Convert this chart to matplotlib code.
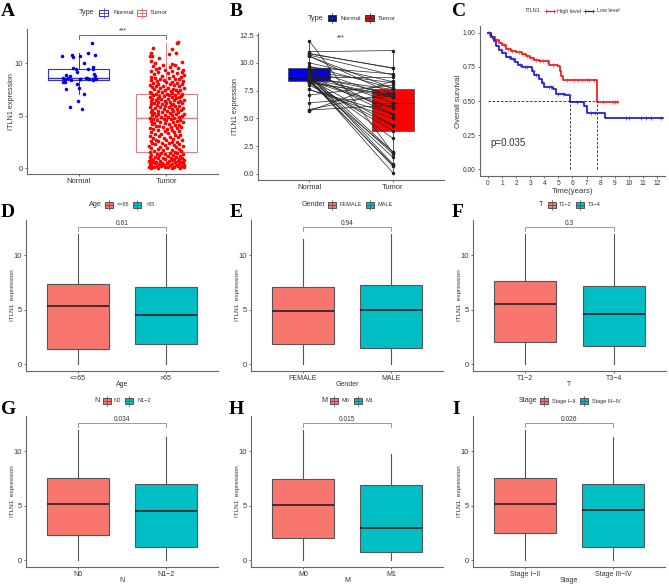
import numpy as np
import matplotlib
matplotlib.use("Agg")
import matplotlib.pyplot as plt
from matplotlib.patches import Rectangle
from matplotlib.lines import Line2D

plt.rcParams["font.family"] = ["Liberation Sans", "DejaVu Sans"]

W, H = 669, 587
RED_BOX = "#F8766D"
TEAL_BOX = "#00BFC4"
TEXT = "#333333"
AXIS = "#666666"

# Panel A
normal_jit = [0.15, 0.11, 0.19, -0.19, -0.08, -0.06, 0.01, 0.06, 0.16, 0.16,
              0.11, -0.07, -0.03, -0.02, 0.18, 0.19, -0.15, -0.10, -0.12, -0.18,
              -0.16, 0.02, -0.09, -0.18, -0.16, 0.08, 0.09, 0.12, 0.16, 0.18,
              0.20, -0.02, -0.14, 0.00, 0.06, -0.01, -0.10, 0.04, 0.02, 0.16]
normal_val = [11.97, 11.05, 10.86, 10.76, 10.86, 10.6, 10.7, 10.0, 9.71, 9.43,
              9.43, 9.59, 9.46, 9.17, 8.98, 8.85, 8.92, 8.79, 8.66, 8.66,
              8.54, 8.5, 8.38, 8.25, 8.25, 8.66, 8.6, 8.54, 8.54, 8.47,
              8.54, 8.03, 7.58, 7.64, 7.1, 6.4, 5.8, 5.67, 8.54, 8.4]
tumor_val = [
    0.02, 0.03, 0.05, 0.05, 0.06, 0.08, 0.1, 0.1, 0.12, 0.14, 0.15, 0.18,
    0.2, 0.22, 0.25, 0.26, 0.3, 0.3, 0.33, 0.36, 0.38, 0.4, 0.42, 0.45,
    0.48, 0.5, 0.52, 0.55, 0.58, 0.6, 0.62, 0.65, 0.68, 0.7, 0.72, 0.75,
    0.78, 0.8, 0.83, 0.85, 0.88, 0.9, 0.92, 0.95, 0.98, 1.0, 1.02, 1.08,
    1.1, 1.14, 1.18, 1.2, 1.25, 1.27, 1.3, 1.33, 1.36, 1.4, 1.42, 1.46,
    1.5, 1.55, 1.6, 1.62, 1.7, 1.75, 1.8, 1.84, 1.9, 1.95, 2.0, 2.05,
    2.1, 2.15, 2.18, 2.22, 2.28, 2.3, 2.35, 2.38, 2.42, 2.45, 2.5, 2.55,
    2.6, 2.65, 2.7, 2.72, 2.78, 2.85, 2.9, 2.95, 3.0, 3.05, 3.08, 3.15,
    3.2, 3.25, 3.3, 3.35, 3.4, 3.45, 3.5, 3.55, 3.6, 3.65, 3.7, 3.75,
    3.8, 3.82, 3.88, 3.9, 3.95, 4.0, 4.05, 4.1, 4.15, 4.2, 4.25, 4.3,
    4.32, 4.36, 4.4, 4.45, 4.5, 4.52, 4.56, 4.6, 4.62, 4.66, 4.7, 4.72,
    4.75, 4.8, 4.84, 4.88, 4.92, 4.95, 5.0, 5.03, 5.06, 5.1, 5.14, 5.18,
    5.2, 5.25, 5.28, 5.32, 5.36, 5.4, 5.44, 5.48, 5.5, 5.55, 5.58, 5.62,
    5.65, 5.68, 5.72, 5.75, 5.8, 5.82, 5.86, 5.9, 5.92, 5.95, 6.0, 6.05,
    6.08, 6.1, 6.15, 6.18, 6.22, 6.25, 6.28, 6.3, 6.35, 6.38, 6.42, 6.45,
    6.5, 6.52, 6.55, 6.6, 6.62, 6.65, 6.7, 6.72, 6.75, 6.8, 6.82, 6.85,
    6.9, 6.92, 6.95, 7.0, 7.02, 7.05, 7.1, 7.12, 7.15, 7.2, 7.24, 7.28,
    7.3, 7.35, 7.4, 7.42, 7.48, 7.5, 7.55, 7.6, 7.62, 7.68, 7.7, 7.75,
    7.8, 7.84, 7.88, 7.9, 7.95, 8.0, 8.02, 8.08, 8.1, 8.15, 8.2, 8.25,
    8.3, 8.35, 8.38, 8.42, 8.48, 8.5, 8.55, 8.6, 8.65, 8.7, 8.75, 8.8,
    8.85, 8.9, 8.98, 9.05, 9.1, 9.15, 9.2, 9.28, 9.3, 9.38, 9.42, 9.5,
    9.55, 9.6, 9.7, 9.8, 9.85, 9.9, 9.95, 10.0, 10.13, 10.2, 10.57, 10.7,
    10.7, 10.89, 11.02, 11.05, 11.34, 11.53, 11.97, 12.04]
tumor_jit = [
    -0.18, 0.06, -0.09, 0.16, -0.02, 0.2, -0.14, 0.09, -0.2, 0.02, 0.13, -0.06,
    0.18, -0.11, 0.04, -0.17, 0.11, -0.03, 0.2, -0.08, 0.07, -0.19, 0.15, -0.13,
    0.01, 0.19, -0.05, -0.16, 0.1, 0.17, -0.12, 0.03, -0.2, 0.13, -0.07, 0.06,
    -0.15, 0.2, -0.01, 0.09, -0.18, 0.15, -0.1, 0.05, -0.04, 0.18, -0.19, 0.11,
    -0.13, 0.02, 0.16, -0.08, 0.08, -0.17, 0.19, -0.02, -0.11, 0.12, -0.06, 0.04,
    -0.19, 0.1, -0.14, 0.17, -0.04, 0.07, -0.1, 0.14, -0.17, 0.01, 0.11, -0.07,
    0.19, -0.2, -0.02, 0.09, -0.13, 0.15, -0.05, 0.03, -0.16, 0.06, 0.12, -0.09,
    -0.18, 0.0, 0.18, -0.12, 0.08, -0.03, -0.15, 0.13, 0.04, -0.08, -0.19, 0.1,
    0.16, -0.06, -0.13, 0.02, 0.09, -0.17, -0.01, 0.14, -0.1, 0.06, -0.15, 0.01,
    0.12, -0.19, -0.04, 0.17, 0.05, -0.12, -0.08, 0.1, 0.15, -0.16, 0.03, -0.02,
    -0.14, 0.08, 0.19, -0.07, -0.18, 0.12, 0.0, -0.11, 0.16, 0.05, -0.15, -0.03,
    0.09, -0.19, 0.14, -0.06, 0.02, 0.18, -0.12, 0.07, -0.16, -0.01, 0.11, -0.09,
    0.2, -0.14, 0.04, -0.05, 0.13, -0.18, 0.08, 0.01, -0.1, 0.17, -0.16, 0.06,
    -0.03, 0.12, -0.13, 0.19, -0.07, 0.03, -0.19, 0.1, -0.01, 0.15, -0.11, 0.05,
    -0.17, 0.08, -0.05, 0.18, 0.0, -0.14, 0.13, -0.09, 0.04, -0.18, 0.16, -0.02,
    0.09, -0.12, 0.2, -0.06, 0.02, -0.16, 0.11, -0.1, 0.06, -0.19, 0.14, -0.03,
    0.17, -0.08, 0.03, -0.15, 0.1, -0.12, 0.01, 0.18, -0.17, 0.07, -0.05, 0.13,
    -0.19, 0.05, -0.1, 0.16, -0.02, 0.11, -0.14, 0.08, -0.07, 0.2, 0.02, -0.16,
    0.14, -0.04, -0.12, 0.09, -0.19, 0.04, 0.18, -0.09, 0.12, -0.15, 0.0, 0.06,
    -0.11, 0.19, -0.03, -0.17, 0.1, 0.15, -0.07, 0.03, -0.13, 0.17, -0.18, 0.08,
    -0.05, 0.2, -0.14, 0.12, 0.02, -0.1, 0.18, -0.17, 0.07, 0.19, -0.02, -0.12,
    0.13, -0.08, 0.04, -0.15, 0.1, -0.04, 0.06, -0.13, 0.18, -0.18, -0.08, -0.19,
    -0.16, 0.03, -0.18, 0.11, 0.06, -0.15, 0.12, 0.13]

a_box_normal = {"q1": 8.4, "med": 8.65, "q3": 9.5, "whislo": 7.1, "whishi": 11.0, "fliers": []}
a_box_tumor = {"q1": 1.5, "med": 4.75, "q3": 7.1, "whislo": 0.0, "whishi": 12.0, "fliers": []}

# Panel B, paired samples
pair_normal = [12.0, 11.0, 10.85, 10.8, 10.7, 10.6, 10.6, 10.0, 9.7, 9.6, 9.45, 9.45,
               9.2, 9.0, 8.95, 8.9, 8.85, 8.8, 8.7, 8.65, 8.65, 8.6, 8.6, 8.55, 8.55,
               8.55, 8.5, 8.45, 8.4, 8.4, 8.3, 8.25, 8.25, 8.2, 8.0, 7.6, 7.6, 7.1,
               6.4, 5.8, 5.75, 5.67]
pair_tumor = [1.9, 11.1, 9.5, 9.55, 8.9, 7.7, 7.2, 8.3, 7.7, 9.0, 6.9, 5.4,
              8.2, 6.4, 2.0, 0.9, 5.3, 7.2, 1.8, 7.6, 8.7, 3.2, 0.1, 6.0, 7.0,
              4.4, 0.7, 1.5, 5.9, 0.8, 6.9, 3.9, 2.0, 7.1, 4.3, 5.0, 5.4, 8.0,
              7.0, 7.3, 6.2, 8.4]
b_box_normal = {"q1": 8.4, "med": 8.65, "q3": 9.5, "whislo": 5.7, "whishi": 12.0, "fliers": []}
b_box_tumor = {"q1": 3.9, "med": 6.35, "q3": 7.65, "whislo": 0.1, "whishi": 11.1, "fliers": []}

# Panel C, survival curves
high_t = [0, 0.2, 0.5, 0.8, 1.0, 1.3, 1.6, 2.0, 2.4, 2.7, 3.0, 3.3, 3.6, 4.0, 4.3,
          5.0, 5.1, 5.2, 5.3, 7.75, 9.2]
high_s = [1.0, 0.97, 0.945, 0.925, 0.91, 0.885, 0.87, 0.86, 0.845, 0.83, 0.815, 0.8,
          0.795, 0.79, 0.765, 0.76, 0.72, 0.68, 0.652, 0.49, 0.49]
low_t = [0, 0.2, 0.4, 0.6, 0.8, 1.0, 1.3, 1.6, 1.9, 2.1, 2.4, 3.0, 3.1, 3.3, 3.6,
         3.8, 4.0, 4.6, 4.8, 5.5, 5.8, 5.85, 6.8, 7.0, 8.3, 12.4]
low_s = [1.0, 0.97, 0.94, 0.9, 0.875, 0.85, 0.825, 0.81, 0.785, 0.765, 0.75, 0.75,
         0.72, 0.69, 0.665, 0.63, 0.605, 0.59, 0.555, 0.545, 0.515, 0.49, 0.465, 0.415,
         0.375, 0.375]
high_cens = [0.1, 0.3, 0.6, 0.9, 1.1, 1.4, 1.7, 1.9, 2.2, 2.5, 2.8, 3.1, 3.4, 3.7, 3.9,
             4.2, 4.6, 4.9, 5.6, 6.1, 6.4, 6.7, 7.0, 7.2, 7.5, 8.2, 8.9, 9.0, 9.15]
low_cens = [0.1, 0.3, 0.5, 0.9, 1.2, 1.5, 1.8, 2.3, 2.6, 2.8, 3.2, 3.4, 3.9, 4.3, 4.5,
            5.0, 5.3, 5.75, 6.3, 7.3, 7.6, 9.8, 10.0, 10.9, 11.2, 11.6, 12.3]
p_text = "p=0.035"

# Panels D to I
group_names = ["Age", "Gender", "T", "N", "M", "Stage"]
group_labels = [["<=65", ">65"], ["FEMALE", "MALE"], ["T1\u22122", "T3\u22124"],
                ["N0", "N1\u22122"], ["M0", "M1"], ["Stage I\u2212II", "Stage III\u2212IV"]]
group_pvalues = ["0.61", "0.94", "0.3", "0.034", "0.015", "0.026"]
box_q1 = [[1.35, 1.8], [1.8, 1.5], [2.05, 1.7], [2.3, 1.2], [2.0, 0.75], [2.5, 1.2]]
box_med = [[5.3, 4.55], [4.9, 5.0], [5.5, 4.6], [5.15, 4.55], [5.05, 2.95], [5.15, 4.6]]
box_q3 = [[7.4, 7.05], [7.05, 7.3], [7.6, 7.15], [7.55, 7.0], [7.45, 6.9], [7.55, 7.0]]
box_hi = [[12.0, 12.0], [11.5, 12.0], [12.0, 12.0], [12.0, 11.3], [12.0, 9.8], [12.0, 11.3]]

fig = plt.figure(figsize=(W / 100, H / 100), dpi=100)


def add_axes_px(left, right, top, bottom):
    ax = fig.add_axes([left / W, 1 - bottom / H, (right - left) / W, (bottom - top) / H])
    ax.spines["top"].set_visible(False)
    ax.spines["right"].set_visible(False)
    for side in ("left", "bottom"):
        ax.spines[side].set_color(AXIS)
        ax.spines[side].set_linewidth(0.8)
    ax.tick_params(colors=TEXT, labelsize=5.4, length=1.6, width=0.5, pad=1.5)
    return ax


def text_px(x, y, s, **kw):
    kw.setdefault("va", "center")
    kw.setdefault("color", TEXT)
    fig.text(x / W, 1 - y / H, s, **kw)


def key_box(x0, x1, y, face, edge):
    fig.add_artist(Line2D([(x0 + x1) / 2 / W] * 2, [1 - (y - 5) / H, 1 - (y + 5) / H],
                          color=edge, lw=0.5))
    fig.add_artist(Rectangle((x0 / W, 1 - (y + 3) / H), (x1 - x0) / W, 6 / H,
                             facecolor=face, edgecolor=edge, lw=0.7,
                             transform=fig.transFigure))
    fig.add_artist(Line2D([x0 / W, x1 / W], [1 - y / H] * 2, color=edge, lw=0.6))


def group_panel(left, right, top, bottom, idx, letter, letter_x, letter_y, legend_xs, legend_y):
    ax = add_axes_px(left, right, top, bottom)
    stats = []
    for j in range(2):
        stats.append({"q1": box_q1[idx][j], "med": box_med[idx][j], "q3": box_q3[idx][j],
                      "whislo": 0.0, "whishi": box_hi[idx][j], "fliers": []})
    parts = ax.bxp(stats, positions=[1, 2], widths=0.7, patch_artist=True, showcaps=False,
                   showfliers=False, medianprops={"color": "#222222", "lw": 1.2},
                   whiskerprops={"color": "#555555", "lw": 0.8},
                   boxprops={"edgecolor": "#555555", "lw": 0.8})
    parts["boxes"][0].set_facecolor(RED_BOX)
    parts["boxes"][1].set_facecolor(TEAL_BOX)
    ax.set_xlim(0.41, 2.59)
    ax.set_ylim(-0.64, 13.25)
    ax.set_yticks([0, 5, 10])
    ax.set_xticks([1, 2])
    ax.set_xticklabels(group_labels[idx])
    ax.tick_params(axis="x", labelsize=5)
    ax.set_ylabel("ITLN1  expression", fontsize=4.6, color=TEXT)
    ax.yaxis.set_label_coords(-(left - 14.6 - (left - 26 if left == 26 else left - 26)) / (right - left) if False else -0.059, 0.5)
    ax.set_xlabel(group_names[idx], fontsize=5.0, color=TEXT)
    ax.xaxis.set_label_coords(0.5, -9.5 / 151)
    ax.plot([1, 1, 2, 2], [12.25, 12.6, 12.6, 12.25], color="#888888", lw=0.6, clip_on=False)
    ax.text(1.5, 12.97, group_pvalues[idx], ha="center", va="center", fontsize=4.8, color=TEXT)

    text_px(letter_x, letter_y, letter, fontsize=14, fontweight="bold", family="Liberation Serif",
            color="black")
    x_title, k1, x1, k2, x2 = legend_xs
    text_px(x_title, legend_y, group_names[idx], fontsize=5.2)
    key_box(k1, k1 + 8, legend_y, RED_BOX, "#555555")
    text_px(x1, legend_y, group_labels[idx][0], fontsize=4)
    key_box(k2, k2 + 8, legend_y, TEAL_BOX, "#555555")
    text_px(x2, legend_y, group_labels[idx][1], fontsize=4)
    return ax


# A: scatter + box
ax = add_axes_px(27, 218, 29, 174)
ax.scatter(1 + np.array(normal_jit), normal_val, s=6.5, color="#0000EE", lw=0, zorder=3)
ax.scatter(2 + np.array(tumor_jit), tumor_val, s=7, color="#FF0000", lw=0, zorder=3)
for st, pos, col in ((a_box_normal, 1, "#3333CC"), (a_box_tumor, 2, "#E08080")):
    ax.bxp([st], positions=[pos], widths=0.7, showcaps=False, showfliers=False,
           medianprops={"color": col, "lw": 1.0}, whiskerprops={"color": col, "lw": 0.7},
           boxprops={"color": col, "lw": 0.8})
ax.set_xlim(0.41, 2.59)
ax.set_ylim(-0.57, 13.3)
ax.set_yticks([0, 5, 10])
ax.set_xticks([1, 2])
ax.set_xticklabels(["Normal", "Tumor"])
ax.set_ylabel("ITLN1 expression", fontsize=5.2, color=TEXT)
ax.yaxis.set_label_coords(-12.4 / 191, 0.5)
ax.plot([1, 1, 2, 2], [12.3, 12.7, 12.7, 12.3], color="#555555", lw=0.6, clip_on=False)
ax.text(1.5, 13.1, "***", ha="center", va="center", fontsize=5, color=TEXT)
text_px(1, 11, "A", fontsize=14, fontweight="bold", family="Liberation Serif", color="black")
text_px(79, 13, "Type", fontsize=5.2)
key_box(99, 108, 13, "white", "#3333CC")
text_px(113, 13, "Normal", fontsize=4.6)
key_box(137, 146, 13, "white", "#E06060")
text_px(150, 13, "Tumor", fontsize=4.6)

# B: paired lines
ax = add_axes_px(258, 444, 33, 180)
parts = ax.bxp([b_box_normal, b_box_tumor], positions=[1, 2], widths=0.51, patch_artist=True,
               showcaps=False, showfliers=False, medianprops={"color": "#111111", "lw": 0.6},
               whiskerprops={"color": "#111111", "lw": 0.5}, boxprops={"edgecolor": "#444444", "lw": 0.5})
parts["boxes"][0].set_facecolor("#0000EE")
parts["boxes"][1].set_facecolor("#FF0000")
for n_val, t_val in zip(pair_normal, pair_tumor):
    ax.plot([1, 2], [n_val, t_val], color="#222222", lw=0.5, marker="o", ms=1.5, zorder=3)
ax.set_xlim(0.39, 2.61)
ax.set_ylim(-0.54, 12.68)
ax.set_yticks([0, 2.5, 5, 7.5, 10, 12.5])
ax.set_yticklabels(["0.0", "2.5", "5.0", "7.5", "10.0", "12.5"])
ax.set_xticks([1, 2])
ax.set_xticklabels(["Normal", "Tumor"])
ax.set_ylabel("ITLN1 expression", fontsize=5.2, color=TEXT)
ax.yaxis.set_label_coords(-19.4 / 186, 0.5)
ax.text(1.38, 12.2, "***", ha="center", va="center", fontsize=5, color=TEXT)
text_px(230, 11, "B", fontsize=14, fontweight="bold", family="Liberation Serif", color="black")
text_px(308, 18, "Type", fontsize=5.2)
key_box(328, 336, 18, "#0000EE", "#333333")
text_px(341, 18, "Normal", fontsize=4.6)
key_box(365, 374, 18, "#FF0000", "#333333")
text_px(378, 18, "Tumor", fontsize=4.6)


def at_time(times, surv, t):
    return surv[np.searchsorted(times, t, side="right") - 1]


# C: survival
ax = add_axes_px(480, 665, 26, 176)
ax.step(high_t, high_s, where="post", color="#EE1111", lw=1.2)
ax.step(low_t, low_s, where="post", color="#1111DD", lw=1.2)
ax.plot(high_cens, [at_time(high_t, high_s, t) for t in high_cens], ls="none", marker="+",
        ms=3, mew=0.5, color="#EE3333")
ax.plot(low_cens, [at_time(low_t, low_s, t) for t in low_cens], ls="none", marker="+",
        ms=3, mew=0.5, color="#3333DD")
ax.plot([0, 7.75], [0.5, 0.5], color="#222222", lw=0.6, ls=(0, (3, 2)))
ax.plot([5.85, 5.85], [0, 0.5], color="#222222", lw=0.6, ls=(0, (3, 2)))
ax.plot([7.75, 7.75], [0, 0.5], color="#222222", lw=0.6, ls=(0, (3, 2)))
ax.set_xlim(-0.57, 12.57)
ax.set_ylim(-0.05, 1.05)
ax.set_xticks(range(13))
ax.set_yticks([0, 0.25, 0.5, 0.75, 1.0])
ax.set_yticklabels(["0.00", "0.25", "0.50", "0.75", "1.00"])
ax.tick_params(labelsize=4.8)
ax.set_xlabel("Time(years)", fontsize=5.6, color=TEXT, labelpad=0.5)
ax.set_ylabel("Overall survival", fontsize=5.6, color=TEXT)
ax.yaxis.set_label_coords(-18 / 185, 0.5)
ax.text(0.2, 0.195, p_text, fontsize=7, color=TEXT, va="center")
text_px(452, 11, "C", fontsize=14, fontweight="bold", family="Liberation Serif", color="black")
text_px(526, 11, "ITLN1", fontsize=3.9)
fig.add_artist(Line2D([546 / W, 554 / W], [1 - 11 / H] * 2, color="#EE1111", lw=0.9, marker="+", ms=2.5, mew=0.4))
text_px(557, 11, "High level", fontsize=3.9)
fig.add_artist(Line2D([585 / W, 593 / W], [1 - 11 / H] * 2, color="#1111DD", lw=0.9, marker="+", ms=2.5, mew=0.4))
text_px(597, 11, "Low level", fontsize=3.9)

# D to I
group_panel(26, 218, 220, 371, 0, "D", 1, 212, (89, 105, 117, 133, 146), 205)
group_panel(251, 443, 220, 371, 1, "E", 230, 212, (302, 328, 340, 366, 378), 205)
group_panel(473, 666, 220, 371, 2, "F", 452, 212, (539, 548, 559, 576, 588), 205)
group_panel(26, 218, 416, 567, 3, "G", 1, 410, (94, 103, 114, 125, 137), 401)
group_panel(251, 443, 416, 567, 4, "H", 229, 410, (321, 330, 342, 354, 366), 401)
group_panel(473, 665, 416, 567, 5, "I", 452, 410, (519, 540, 552, 580, 592), 401)

fig.savefig("out.png", dpi=100)
